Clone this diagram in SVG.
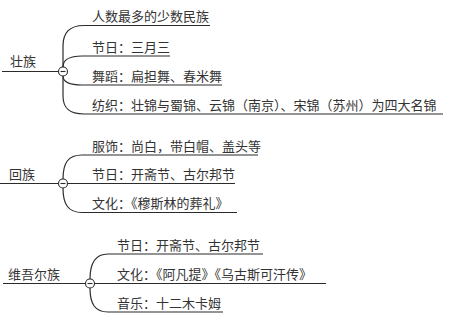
<svg xmlns="http://www.w3.org/2000/svg" width="451" height="323" viewBox="0 0 451 323">
<style>
.bg{fill:#ffffff}
.ln{fill:none;stroke:#2b2b2b;stroke-width:1.2}
.t{font-family:"Noto Sans CJK SC","Noto Sans",sans-serif;font-size:13px;fill:#333333}
.tg{fill:#ffffff;stroke:#2b2b2b;stroke-width:1.1}
.mn{stroke:#2b2b2b;stroke-width:1.1}
</style>
<rect class="bg" x="0" y="0" width="451" height="323"/>
<g id="connectors">
<path class="ln" d="M2 71.5 H58.5"/>
<path class="ln" d="M63 67 V46 C63 33 69 25.5 84 25.5 H210"/>
<path class="ln" d="M63 67 C63 60 68 56 82 56 H170"/>
<path class="ln" d="M63 76 C63 82 68 85 82 85 H222"/>
<path class="ln" d="M63 76 V96 C63 108 69 114 84 114 H443"/>
<path class="ln" d="M0 183.5 H58.5"/>
<path class="ln" d="M63 179 C63 163 68 155 82 155 H258"/>
<path class="ln" d="M67.5 183.5 H235"/>
<path class="ln" d="M63 188 C63 204 68 212.5 82 212.5 H237"/>
<path class="ln" d="M3 283.5 H85.5"/>
<path class="ln" d="M90 279 C90 263 95 254 108 254 H263"/>
<path class="ln" d="M94.5 283.5 H326"/>
<path class="ln" d="M90 288 C90 304 95 312 108 312 H223"/>
</g>
<g id="zhuang">
<text class="t" x="10" y="66">壮族</text>
<circle class="tg" cx="63" cy="71.5" r="4.5"/>
<line class="mn" x1="60.5" y1="71.5" x2="65.5" y2="71.5"/>
</g>
<g id="zhuang-1"><text class="t" x="92" y="21">人数最多的少数民族</text></g>
<g id="zhuang-2"><text class="t" x="92" y="51.5">节日：三月三</text></g>
<g id="zhuang-3"><text class="t" x="92" y="80.5">舞蹈：扁担舞、春米舞</text></g>
<g id="zhuang-4"><text class="t" x="92" y="109.5">纺织：壮锦与蜀锦、云锦（南京）、宋锦（苏州）为四大名锦</text></g>
<g id="hui">
<text class="t" x="9" y="179">回族</text>
<circle class="tg" cx="63" cy="183.5" r="4.5"/>
<line class="mn" x1="60.5" y1="183.5" x2="65.5" y2="183.5"/>
</g>
<g id="hui-1"><text class="t" x="92" y="150.5">服饰：尚白，带白帽、盖头等</text></g>
<g id="hui-2"><text class="t" x="92" y="179">节日：开斋节、古尔邦节</text></g>
<g id="hui-3"><text class="t" x="92" y="208">文化：《穆斯林的葬礼》</text></g>
<g id="uyghur">
<text class="t" x="8" y="279">维吾尔族</text>
<circle class="tg" cx="90" cy="283.5" r="4.5"/>
<line class="mn" x1="87.5" y1="283.5" x2="92.5" y2="283.5"/>
</g>
<g id="uyghur-1"><text class="t" x="117" y="249.5">节日：开斋节、古尔邦节</text></g>
<g id="uyghur-2"><text class="t" x="117" y="279">文化：《阿凡提》《乌古斯可汗传》</text></g>
<g id="uyghur-3"><text class="t" x="117" y="307.5">音乐：十二木卡姆</text></g>
</svg>
